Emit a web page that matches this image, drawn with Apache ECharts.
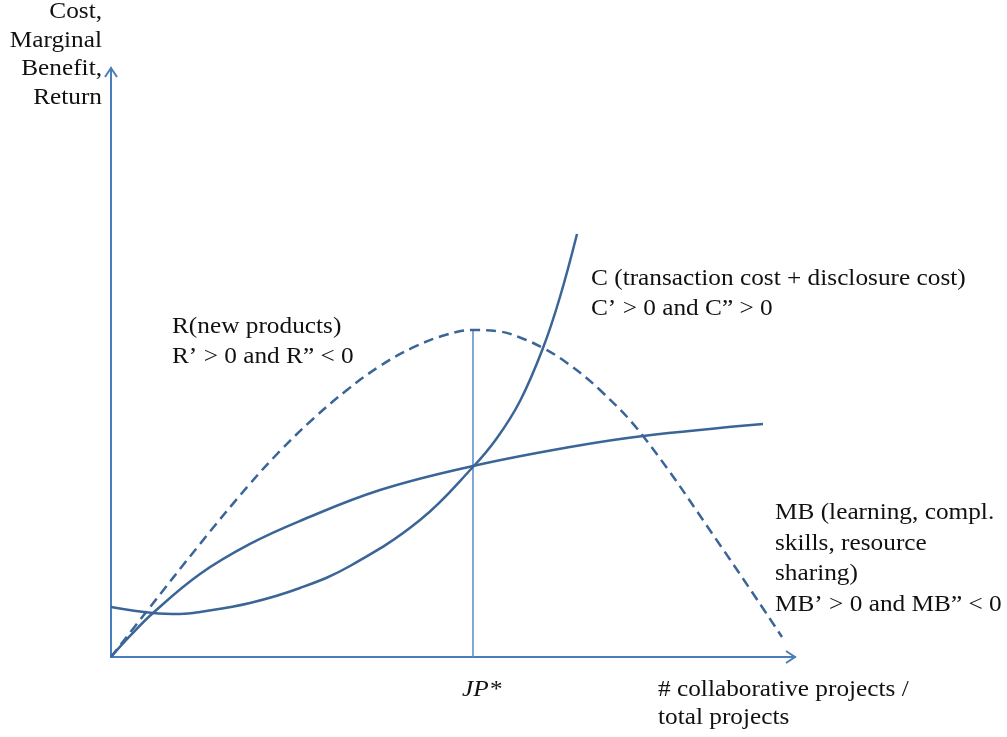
<!DOCTYPE html>
<html>
<head>
<meta charset="utf-8">
<script src="https://cdn.jsdelivr.net/npm/echarts@6/dist/echarts.min.js"></script>
<style>html,body{margin:0;padding:0;background:#fff}#c{width:1007px;height:737px}</style>
</head>
<body>
<div id="c"></div>
<script>
// Curve C (transaction cost + disclosure cost)
const cX = [0, 6.14, 10.09, 13.01, 20.32, 27.63, 34.94, 45.18, 52.92, 56.43, 59.80, 63.16, 65.64, 68.13];
const cY = [8.49, 7.47, 7.30, 7.64, 9.17, 11.71, 15.45, 23.26, 32.26, 37.18, 43.46, 52.46, 61.12, 71.82];
// Curve MB (marginal benefit)
const mbX = [0, 2.78, 6.14, 13.01, 20.32, 27.63, 39.33, 52.92, 67.11, 77.78, 95.32];
const mbY = [0, 3.57, 7.47, 14.09, 19.19, 23.09, 28.35, 32.43, 35.65, 37.52, 39.56];
// Curve R (new products), dashed
const rX = [0, 5.26, 13.01, 20.03, 24.71, 29.53, 34.50, 39.33, 44.15, 49.12, 52.92, 56.87, 59.80, 63.16, 66.67, 71.49, 77.78, 89.04, 98.10];
const rY = [0, 7.81, 19.19, 29.03, 34.97, 40.41, 45.33, 49.41, 52.55, 54.75, 55.52, 55.26, 54.24, 52.46, 49.92, 45.33, 37.52, 19.02, 3.40];
// Optimum JP*
const jpX = 52.92;
const jpTop = 55.5;

const yTitle = ["Cost,", "Marginal", "Benefit,", "Return"];
const rLabel = ["R(new products)", "R\u2019 > 0 and R\u201D < 0"];
const cLabel = ["C (transaction cost + disclosure cost)", "C\u2019 > 0 and C\u201D > 0"];
const mbLabel = ["MB (learning, compl.", "skills, resource", "sharing)", "MB\u2019 > 0 and MB\u201D < 0"];
const xTitle = ["# collaborative projects /", "total projects"];
const jpLabel = "JP*";

const zip = (xs, ys) => xs.map((x, i) => [x, ys[i]]);

const curveColor = '#3b6597';
const axisColor = '#4a7ebb';
const FONT = '23px "Liberation Serif", "Times New Roman", serif';
const SX = 1.1;
const SM = 0.4;

const chart = echarts.init(document.getElementById('c'));
chart.setOption({
  animation: false,
  backgroundColor: '#fff',
  grid: {left: 111, right: 212, top: 68, bottom: 80},
  xAxis: {type: 'value', min: 0, max: 100,
    axisLine: {show: true, onZero: false, lineStyle: {color: axisColor, width: 2}},
    axisTick: {show: false}, axisLabel: {show: false}, splitLine: {show: false}},
  yAxis: {type: 'value', min: 0, max: 100,
    axisLine: {show: true, onZero: false, lineStyle: {color: axisColor, width: 2}},
    axisTick: {show: false}, axisLabel: {show: false}, splitLine: {show: false}},
  series: [
    {type: 'line', data: zip([jpX, jpX], [0, jpTop]), showSymbol: false,
     lineStyle: {color: '#5b8bc8', width: 1.5}, z: 1},
    {type: 'line', data: zip(rX, rY), smooth: SM, showSymbol: false,
     lineStyle: {color: curveColor, width: 2.5, type: [10, 6]}, z: 2},
    {type: 'line', data: zip(mbX, mbY), smooth: SM, showSymbol: false,
     lineStyle: {color: curveColor, width: 2.5}, z: 3},
    {type: 'line', data: zip(cX, cY), smooth: SM, showSymbol: false,
     lineStyle: {color: curveColor, width: 2.5}, z: 3}
  ]
});

const px = chart.convertToPixel({gridIndex: 0}, [100, 0]);
const py = chart.convertToPixel({gridIndex: 0}, [0, 100]);
const pj = chart.convertToPixel({gridIndex: 0}, [jpX, 0]);

function txt(lines, x, yCenterFirst, lh, align, extra) {
  return {
    type: 'text', x: x, y: yCenterFirst - lh / 2, scaleX: SX,
    style: Object.assign({text: lines.join('\n'), font: FONT, fill: '#111',
      align: align, verticalAlign: 'top', lineHeight: lh}, extra || {})
  };
}

chart.setOption({
  graphic: [
    {type: 'polyline', shape: {points: [[px[0] - 9, px[1] - 6], [px[0], px[1]], [px[0] - 9, px[1] + 6]]},
     style: {stroke: axisColor, lineWidth: 2, fill: null}},
    {type: 'polyline', shape: {points: [[py[0] - 6, py[1] + 9], [py[0], py[1]], [py[0] + 6, py[1] + 9]]},
     style: {stroke: axisColor, lineWidth: 2, fill: null}},
    txt(yTitle, 102, 12, 28.5, 'right'),
    txt(rLabel, 172, 327, 30, 'left'),
    txt(cLabel, 591, 279, 29.5, 'left'),
    txt(mbLabel, 775, 513, 30.5, 'left'),
    txt([jpLabel], pj[0] - 11, 690, 28, 'left', {font: 'italic ' + FONT}),
    txt(xTitle, 658, 690, 28, 'left')
  ]
});
</script>
</body>
</html>
